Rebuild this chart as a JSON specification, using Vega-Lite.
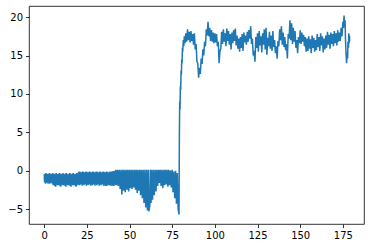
{
  "$schema": "https://vega.github.io/schema/vega-lite/v6.json",
  "width": 335,
  "height": 218,
  "autosize": {"type": "none"},
  "padding": {"left": 29, "top": 6, "right": 6, "bottom": 24},
  "background": "white",
  "config": {
    "view": {"stroke": "#000", "strokeWidth": 0.8},
    "axis": {
      "grid": false,
      "domain": false,
      "ticks": true,
      "tickColor": "#000",
      "tickWidth": 0.8,
      "tickSize": 3.5,
      "labelFont": "DejaVu Sans",
      "labelFontSize": 10,
      "labelColor": "#000",
      "labelPadding": 3,
      "title": null
    }
  },
  "data": {
    "values": [
      {"x": 0, "y": -0.5}, {"x": 0.25, "y": -1.5}, {"x": 0.5, "y": -0.4}, {"x": 0.75, "y": -1.7},
      {"x": 1, "y": -0.3}, {"x": 1.25, "y": -1.6}, {"x": 1.5, "y": -0.5}, {"x": 1.75, "y": -1.4},
      {"x": 2, "y": -0.4}, {"x": 2.25, "y": -1.7}, {"x": 2.5, "y": -0.6}, {"x": 2.75, "y": -1.5},
      {"x": 3, "y": -0.3}, {"x": 3.25, "y": -1.7}, {"x": 3.5, "y": -0.4}, {"x": 3.75, "y": -1.6},
      {"x": 4, "y": -0.5}, {"x": 4.25, "y": -1.4}, {"x": 4.5, "y": -0.4}, {"x": 4.75, "y": -1.7},
      {"x": 5, "y": -0.3}, {"x": 5.25, "y": -1.9}, {"x": 5.5, "y": -0.5}, {"x": 5.75, "y": -1.8},
      {"x": 6, "y": -0.4}, {"x": 6.25, "y": -2.0}, {"x": 6.5, "y": -0.6}, {"x": 6.75, "y": -2.1},
      {"x": 7, "y": -0.3}, {"x": 7.25, "y": -1.8}, {"x": 7.5, "y": -0.4}, {"x": 7.75, "y": -1.9},
      {"x": 8, "y": -0.5}, {"x": 8.25, "y": -1.9}, {"x": 8.5, "y": -0.4}, {"x": 8.75, "y": -1.8},
      {"x": 9, "y": -0.3}, {"x": 9.25, "y": -2.0}, {"x": 9.5, "y": -0.5}, {"x": 9.75, "y": -2.1},
      {"x": 10, "y": -0.4}, {"x": 10.25, "y": -1.8}, {"x": 10.5, "y": -0.6}, {"x": 10.75, "y": -1.9},
      {"x": 11, "y": -0.3}, {"x": 11.25, "y": -1.9}, {"x": 11.5, "y": -0.4}, {"x": 11.75, "y": -1.8},
      {"x": 12, "y": -0.5}, {"x": 12.25, "y": -2.0}, {"x": 12.5, "y": -0.4}, {"x": 12.75, "y": -2.1},
      {"x": 13, "y": -0.3}, {"x": 13.25, "y": -1.8}, {"x": 13.5, "y": -0.5}, {"x": 13.75, "y": -1.9},
      {"x": 14, "y": -0.4}, {"x": 14.25, "y": -1.9}, {"x": 14.5, "y": -0.6}, {"x": 14.75, "y": -1.8},
      {"x": 15, "y": -0.3}, {"x": 15.25, "y": -2.0}, {"x": 15.5, "y": -0.4}, {"x": 15.75, "y": -2.1},
      {"x": 16, "y": -0.5}, {"x": 16.25, "y": -1.8}, {"x": 16.5, "y": -0.4}, {"x": 16.75, "y": -1.9},
      {"x": 17, "y": -0.3}, {"x": 17.25, "y": -1.9}, {"x": 17.5, "y": -0.5}, {"x": 17.75, "y": -1.8},
      {"x": 18, "y": -0.4}, {"x": 18.25, "y": -2.0}, {"x": 18.5, "y": -0.6}, {"x": 18.75, "y": -2.1},
      {"x": 19, "y": -0.3}, {"x": 19.25, "y": -1.8}, {"x": 19.5, "y": -0.4}, {"x": 19.75, "y": -1.9},
      {"x": 20, "y": -0.2}, {"x": 20.25, "y": -1.7}, {"x": 20.5, "y": -0.1}, {"x": 20.75, "y": -1.9},
      {"x": 21, "y": -0.15}, {"x": 21.25, "y": -1.8}, {"x": 21.5, "y": -0.25}, {"x": 21.75, "y": -1.75},
      {"x": 22, "y": -0.2}, {"x": 22.25, "y": -1.95}, {"x": 22.5, "y": -0.1}, {"x": 22.75, "y": -1.7},
      {"x": 23, "y": -0.15}, {"x": 23.25, "y": -1.9}, {"x": 23.5, "y": -0.25}, {"x": 23.75, "y": -1.8},
      {"x": 24, "y": -0.2}, {"x": 24.25, "y": -1.75}, {"x": 24.5, "y": -0.1}, {"x": 24.75, "y": -1.95},
      {"x": 25, "y": -0.15}, {"x": 25.25, "y": -1.7}, {"x": 25.5, "y": -0.25}, {"x": 25.75, "y": -1.9},
      {"x": 26, "y": -0.2}, {"x": 26.25, "y": -1.8}, {"x": 26.5, "y": -0.1}, {"x": 26.75, "y": -1.75},
      {"x": 27, "y": -0.15}, {"x": 27.25, "y": -1.95}, {"x": 27.5, "y": -0.25}, {"x": 27.75, "y": -1.7},
      {"x": 28, "y": -0.2}, {"x": 28.25, "y": -1.9}, {"x": 28.5, "y": -0.1}, {"x": 28.75, "y": -1.8},
      {"x": 29, "y": -0.15}, {"x": 29.25, "y": -1.75}, {"x": 29.5, "y": -0.25}, {"x": 29.75, "y": -1.95},
      {"x": 30, "y": -0.2}, {"x": 30.25, "y": -1.7}, {"x": 30.5, "y": -0.1}, {"x": 30.75, "y": -1.9},
      {"x": 31, "y": -0.15}, {"x": 31.25, "y": -1.8}, {"x": 31.5, "y": -0.25}, {"x": 31.75, "y": -1.75},
      {"x": 32, "y": -0.2}, {"x": 32.25, "y": -1.95}, {"x": 32.5, "y": -0.1}, {"x": 32.75, "y": -1.7},
      {"x": 33, "y": -0.15}, {"x": 33.25, "y": -1.9}, {"x": 33.5, "y": -0.25}, {"x": 33.75, "y": -1.8},
      {"x": 34, "y": -0.2}, {"x": 34.25, "y": -1.75}, {"x": 34.5, "y": -0.1}, {"x": 34.75, "y": -1.95},
      {"x": 35, "y": -0.15}, {"x": 35.25, "y": -1.8}, {"x": 35.5, "y": -0.25}, {"x": 35.75, "y": -2.0},
      {"x": 36, "y": -0.2}, {"x": 36.25, "y": -1.9}, {"x": 36.5, "y": -0.1}, {"x": 36.75, "y": -2.0},
      {"x": 37, "y": -0.15}, {"x": 37.25, "y": -1.8}, {"x": 37.5, "y": -0.25}, {"x": 37.75, "y": -1.9},
      {"x": 38, "y": -0.2}, {"x": 38.25, "y": -1.85}, {"x": 38.5, "y": -0.1}, {"x": 38.75, "y": -1.95},
      {"x": 39, "y": -0.15}, {"x": 39.25, "y": -1.8}, {"x": 39.5, "y": -0.1}, {"x": 39.75, "y": -2.0},
      {"x": 40, "y": -0.1}, {"x": 40.25, "y": -1.85}, {"x": 40.5, "y": -0.05}, {"x": 40.75, "y": -2.0},
      {"x": 41, "y": -0.1}, {"x": 41.25, "y": -1.8}, {"x": 41.5, "y": 0.0}, {"x": 41.75, "y": -1.9},
      {"x": 42, "y": 0.1}, {"x": 42.5, "y": -1.9}, {"x": 43, "y": 0.1}, {"x": 43.5, "y": -2.0},
      {"x": 44, "y": 0.1}, {"x": 44.5, "y": -2.4}, {"x": 45, "y": 0.1}, {"x": 45.5, "y": -3.1},
      {"x": 46, "y": 0.1}, {"x": 46.5, "y": -2.6}, {"x": 47, "y": 0.1}, {"x": 47.5, "y": -2.8},
      {"x": 48, "y": 0.1}, {"x": 48.5, "y": -2.5}, {"x": 49, "y": 0.1}, {"x": 49.5, "y": -2.7},
      {"x": 50, "y": 0.1}, {"x": 50.5, "y": -2.3}, {"x": 51, "y": 0.1}, {"x": 51.5, "y": -2.4},
      {"x": 52, "y": 0.1}, {"x": 52.5, "y": -2.2}, {"x": 53, "y": 0.1}, {"x": 53.5, "y": -2.5},
      {"x": 54, "y": 0.1}, {"x": 54.5, "y": -2.9}, {"x": 55, "y": 0.1}, {"x": 55.5, "y": -2.6},
      {"x": 56, "y": 0.1}, {"x": 56.5, "y": -3.2}, {"x": 57, "y": 0.1}, {"x": 57.5, "y": -3.6},
      {"x": 58, "y": 0.1}, {"x": 58.5, "y": -4.2}, {"x": 59, "y": 0.1}, {"x": 59.5, "y": -4.8},
      {"x": 60, "y": 0.1}, {"x": 60.5, "y": -5.2}, {"x": 61, "y": 0.1}, {"x": 61.3, "y": -5.3},
      {"x": 61.9, "y": -4.6}, {"x": 62.2, "y": 0.1}, {"x": 62.6, "y": -4.2}, {"x": 63, "y": 0.1},
      {"x": 63.5, "y": -3.8}, {"x": 64, "y": 0.1}, {"x": 64.5, "y": -3.2}, {"x": 65, "y": 0.1},
      {"x": 65.5, "y": -2.7}, {"x": 66, "y": 0.1}, {"x": 66.5, "y": -2.0}, {"x": 67, "y": 0.1},
      {"x": 67.5, "y": -1.6}, {"x": 68, "y": 0.1}, {"x": 68.5, "y": -2.0}, {"x": 69, "y": 0.1},
      {"x": 69.5, "y": -2.3}, {"x": 70, "y": 0.1}, {"x": 70.5, "y": -1.9}, {"x": 71, "y": 0.1},
      {"x": 71.5, "y": -1.8}, {"x": 72, "y": 0.1}, {"x": 72.5, "y": -2.1}, {"x": 73, "y": 0.1},
      {"x": 73.5, "y": -1.9}, {"x": 74, "y": 0.0}, {"x": 74.5, "y": -2.2}, {"x": 75, "y": 0.1},
      {"x": 75.5, "y": -2.8}, {"x": 76, "y": -0.1}, {"x": 76.5, "y": -3.6}, {"x": 77, "y": 0.0},
      {"x": 77.5, "y": -4.3}, {"x": 78, "y": -0.3}, {"x": 78.5, "y": -5.0}, {"x": 79, "y": -5.7},
      {"x": 79.2, "y": 4}, {"x": 79.4, "y": 9}, {"x": 79.6, "y": 8}, {"x": 79.8, "y": 11},
      {"x": 80.0, "y": 10.5}, {"x": 80.2, "y": 13}, {"x": 80.4, "y": 12.5}, {"x": 80.6, "y": 14.5},
      {"x": 80.8, "y": 14}, {"x": 81.0, "y": 16}, {"x": 81.2, "y": 15.5}, {"x": 81.5, "y": 17},
      {"x": 81.8, "y": 16.2}, {"x": 82.1, "y": 17.5}, {"x": 82.5, "y": 16.6}, {"x": 83, "y": 17.9},
      {"x": 83.5, "y": 16.8}, {"x": 84, "y": 18.4}, {"x": 84.5, "y": 17.0}, {"x": 85, "y": 18.1},
      {"x": 85.5, "y": 16.7}, {"x": 86, "y": 18.2}, {"x": 86.5, "y": 16.9}, {"x": 87, "y": 17.8},
      {"x": 87.5, "y": 16.4}, {"x": 88, "y": 17.9}, {"x": 88.5, "y": 15.8}, {"x": 89, "y": 16.5},
      {"x": 89.5, "y": 14.2}, {"x": 90, "y": 14.0}, {"x": 90.5, "y": 12.1}, {"x": 91, "y": 13.4},
      {"x": 91.5, "y": 12.6}, {"x": 92, "y": 14.6}, {"x": 92.5, "y": 13.9}, {"x": 93, "y": 15.8},
      {"x": 93.5, "y": 15.0}, {"x": 94, "y": 16.8}, {"x": 94.5, "y": 16.2}, {"x": 95, "y": 18.4},
      {"x": 95.5, "y": 17.6}, {"x": 96, "y": 19.4}, {"x": 96.5, "y": 17.5}, {"x": 97, "y": 18.6},
      {"x": 97.5, "y": 16.9}, {"x": 98, "y": 18.3}, {"x": 98.5, "y": 16.8}, {"x": 99, "y": 18.0},
      {"x": 99.5, "y": 16.6}, {"x": 100, "y": 17.9}, {"x": 100.5, "y": 16.7}, {"x": 101, "y": 17.8},
      {"x": 101.5, "y": 16.2}, {"x": 102, "y": 16.8}, {"x": 102.5, "y": 14.0}, {"x": 103, "y": 15.6},
      {"x": 103.5, "y": 15.9}, {"x": 104, "y": 18.1}, {"x": 104.5, "y": 16.5}, {"x": 105, "y": 18.4},
      {"x": 105.5, "y": 16.8}, {"x": 106, "y": 17.9}, {"x": 106.5, "y": 16.2}, {"x": 107, "y": 18.5},
      {"x": 107.5, "y": 16.9}, {"x": 108, "y": 18.2}, {"x": 108.5, "y": 16.4}, {"x": 109, "y": 17.8},
      {"x": 109.5, "y": 15.8}, {"x": 110, "y": 18.0}, {"x": 110.5, "y": 16.6}, {"x": 111, "y": 18.3},
      {"x": 111.5, "y": 16.9}, {"x": 112, "y": 18.5}, {"x": 112.5, "y": 16.3}, {"x": 113, "y": 17.6},
      {"x": 113.5, "y": 15.9}, {"x": 114, "y": 17.2}, {"x": 114.5, "y": 15.5}, {"x": 115, "y": 17.4},
      {"x": 115.5, "y": 16.0}, {"x": 116, "y": 17.8}, {"x": 116.5, "y": 15.6}, {"x": 117, "y": 18.0},
      {"x": 117.5, "y": 16.7}, {"x": 118, "y": 17.6}, {"x": 118.5, "y": 16.4}, {"x": 119, "y": 18.1},
      {"x": 119.5, "y": 16.8}, {"x": 120, "y": 18.3}, {"x": 120.5, "y": 17.2}, {"x": 121, "y": 18.8},
      {"x": 121.5, "y": 16.5}, {"x": 122, "y": 17.2}, {"x": 122.5, "y": 15.0}, {"x": 123, "y": 15.6},
      {"x": 123.5, "y": 14.2}, {"x": 124, "y": 17.4}, {"x": 124.5, "y": 16.0}, {"x": 125, "y": 17.9},
      {"x": 125.5, "y": 15.5}, {"x": 126, "y": 18.2}, {"x": 126.5, "y": 16.3}, {"x": 127, "y": 17.5},
      {"x": 127.5, "y": 15.4}, {"x": 128, "y": 17.9}, {"x": 128.5, "y": 16.4}, {"x": 129, "y": 18.4},
      {"x": 129.5, "y": 15.8}, {"x": 130, "y": 18.6}, {"x": 130.5, "y": 15.1}, {"x": 131, "y": 17.3},
      {"x": 131.5, "y": 16.2}, {"x": 132, "y": 18.1}, {"x": 132.5, "y": 15.9}, {"x": 133, "y": 17.6},
      {"x": 133.5, "y": 15.6}, {"x": 134, "y": 18.2}, {"x": 134.5, "y": 16.1}, {"x": 135, "y": 17.0},
      {"x": 135.5, "y": 15.3}, {"x": 136, "y": 16.2}, {"x": 136.5, "y": 14.6}, {"x": 137, "y": 16.9},
      {"x": 137.5, "y": 16.2}, {"x": 138, "y": 18.4}, {"x": 138.5, "y": 17.0}, {"x": 139, "y": 18.8},
      {"x": 139.5, "y": 16.4}, {"x": 140, "y": 18.0}, {"x": 140.5, "y": 16.1}, {"x": 141, "y": 17.4},
      {"x": 141.5, "y": 15.7}, {"x": 142, "y": 16.5}, {"x": 142.5, "y": 14.6}, {"x": 143, "y": 17.8},
      {"x": 143.5, "y": 17.2}, {"x": 144, "y": 19.6}, {"x": 144.5, "y": 17.0}, {"x": 145, "y": 19.2},
      {"x": 145.5, "y": 16.5}, {"x": 146, "y": 18.6}, {"x": 146.5, "y": 16.8}, {"x": 147, "y": 18.2},
      {"x": 147.5, "y": 16.0}, {"x": 148, "y": 17.0}, {"x": 148.5, "y": 15.3}, {"x": 149, "y": 17.4},
      {"x": 149.5, "y": 16.6}, {"x": 150, "y": 18.3}, {"x": 150.5, "y": 16.5}, {"x": 151, "y": 18.0},
      {"x": 151.5, "y": 16.8}, {"x": 152, "y": 17.7}, {"x": 152.5, "y": 16.2}, {"x": 153, "y": 17.4},
      {"x": 153.5, "y": 15.5}, {"x": 154, "y": 17.2}, {"x": 154.5, "y": 15.6}, {"x": 155, "y": 17.5},
      {"x": 155.5, "y": 15.9}, {"x": 156, "y": 17.1}, {"x": 156.5, "y": 15.3}, {"x": 157, "y": 17.6},
      {"x": 157.5, "y": 16.0}, {"x": 158, "y": 17.3}, {"x": 158.5, "y": 15.5}, {"x": 159, "y": 17.0},
      {"x": 159.5, "y": 15.7}, {"x": 160, "y": 17.8}, {"x": 160.5, "y": 16.1}, {"x": 161, "y": 17.4},
      {"x": 161.5, "y": 15.6}, {"x": 162, "y": 17.9}, {"x": 162.5, "y": 16.3}, {"x": 163, "y": 17.5},
      {"x": 163.5, "y": 15.4}, {"x": 164, "y": 17.2}, {"x": 164.5, "y": 15.8}, {"x": 165, "y": 17.6},
      {"x": 165.5, "y": 16.0}, {"x": 166, "y": 18.1}, {"x": 166.5, "y": 16.4}, {"x": 167, "y": 17.7},
      {"x": 167.5, "y": 15.9}, {"x": 168, "y": 18.0}, {"x": 168.5, "y": 16.5}, {"x": 169, "y": 17.8},
      {"x": 169.5, "y": 16.2}, {"x": 170, "y": 18.2}, {"x": 170.5, "y": 16.6}, {"x": 171, "y": 17.9},
      {"x": 171.5, "y": 16.3}, {"x": 172, "y": 18.3}, {"x": 172.5, "y": 16.8}, {"x": 173, "y": 18.0},
      {"x": 173.5, "y": 16.9}, {"x": 174, "y": 18.6}, {"x": 174.5, "y": 17.5}, {"x": 175, "y": 19.4},
      {"x": 175.4, "y": 18.6}, {"x": 175.7, "y": 20.2}, {"x": 176.0, "y": 18.8}, {"x": 176.3, "y": 19.6},
      {"x": 176.6, "y": 16.8}, {"x": 176.9, "y": 15.2}, {"x": 177.2, "y": 14.0}, {"x": 177.5, "y": 15.4},
      {"x": 177.8, "y": 14.6}, {"x": 178.0, "y": 16.8}, {"x": 178.3, "y": 16.0}, {"x": 178.5, "y": 17.9},
      {"x": 178.7, "y": 16.6}, {"x": 178.9, "y": 17.6}, {"x": 179.0, "y": 16.9}
    ]
  },
  "mark": {"type": "line", "color": "#1f77b4", "strokeWidth": 1.5, "clip": true},
  "encoding": {
    "x": {
      "field": "x",
      "type": "quantitative",
      "scale": {"domain": [-8.9, 187.4], "nice": false, "zero": false},
      "axis": {"values": [0, 25, 50, 75, 100, 125, 150, 175]}
    },
    "y": {
      "field": "y",
      "type": "quantitative",
      "scale": {"domain": [-6.95, 21.45], "nice": false, "zero": false},
      "axis": {"values": [-5, 0, 5, 10, 15, 20], "labelExpr": "replace(datum.label, '-', '\u2212')"}
    }
  }
}
